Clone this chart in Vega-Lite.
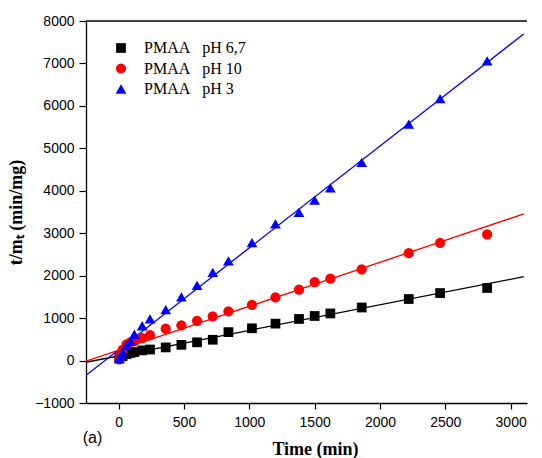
{
  "$schema": "https://vega.github.io/schema/vega-lite/v6.json",
  "width": 441,
  "height": 382,
  "autosize": "none",
  "padding": {"left": 86, "top": 21, "right": 15, "bottom": 55},
  "background": "white",
  "config": {"view": {"stroke": null}},
  "datasets": {
    "points": [
      {"time": 5, "tm": 60, "series": "PMAA   pH 6,7"},
      {"time": 30, "tm": 100, "series": "PMAA   pH 6,7"},
      {"time": 60, "tm": 150, "series": "PMAA   pH 6,7"},
      {"time": 90, "tm": 180, "series": "PMAA   pH 6,7"},
      {"time": 120, "tm": 200, "series": "PMAA   pH 6,7"},
      {"time": 180, "tm": 240, "series": "PMAA   pH 6,7"},
      {"time": 240, "tm": 260, "series": "PMAA   pH 6,7"},
      {"time": 360, "tm": 310, "series": "PMAA   pH 6,7"},
      {"time": 480, "tm": 370, "series": "PMAA   pH 6,7"},
      {"time": 600, "tm": 430, "series": "PMAA   pH 6,7"},
      {"time": 720, "tm": 490, "series": "PMAA   pH 6,7"},
      {"time": 840, "tm": 670, "series": "PMAA   pH 6,7"},
      {"time": 1020, "tm": 760, "series": "PMAA   pH 6,7"},
      {"time": 1200, "tm": 870, "series": "PMAA   pH 6,7"},
      {"time": 1380, "tm": 980, "series": "PMAA   pH 6,7"},
      {"time": 1500, "tm": 1050, "series": "PMAA   pH 6,7"},
      {"time": 1620, "tm": 1110, "series": "PMAA   pH 6,7"},
      {"time": 1860, "tm": 1250, "series": "PMAA   pH 6,7"},
      {"time": 2220, "tm": 1450, "series": "PMAA   pH 6,7"},
      {"time": 2460, "tm": 1590, "series": "PMAA   pH 6,7"},
      {"time": 2820, "tm": 1710, "series": "PMAA   pH 6,7"},
      {"time": 5, "tm": 30, "series": "PMAA   pH 10"},
      {"time": 15, "tm": 150, "series": "PMAA   pH 10"},
      {"time": 30, "tm": 250, "series": "PMAA   pH 10"},
      {"time": 60, "tm": 380, "series": "PMAA   pH 10"},
      {"time": 90, "tm": 430, "series": "PMAA   pH 10"},
      {"time": 120, "tm": 460, "series": "PMAA   pH 10"},
      {"time": 180, "tm": 530, "series": "PMAA   pH 10"},
      {"time": 240, "tm": 600, "series": "PMAA   pH 10"},
      {"time": 360, "tm": 750, "series": "PMAA   pH 10"},
      {"time": 480, "tm": 830, "series": "PMAA   pH 10"},
      {"time": 600, "tm": 935, "series": "PMAA   pH 10"},
      {"time": 720, "tm": 1040, "series": "PMAA   pH 10"},
      {"time": 840, "tm": 1160, "series": "PMAA   pH 10"},
      {"time": 1020, "tm": 1310, "series": "PMAA   pH 10"},
      {"time": 1200, "tm": 1490, "series": "PMAA   pH 10"},
      {"time": 1380, "tm": 1670, "series": "PMAA   pH 10"},
      {"time": 1500, "tm": 1850, "series": "PMAA   pH 10"},
      {"time": 1620, "tm": 1930, "series": "PMAA   pH 10"},
      {"time": 1860, "tm": 2150, "series": "PMAA   pH 10"},
      {"time": 2220, "tm": 2530, "series": "PMAA   pH 10"},
      {"time": 2460, "tm": 2770, "series": "PMAA   pH 10"},
      {"time": 2820, "tm": 2970, "series": "PMAA   pH 10"},
      {"time": 5, "tm": 40, "series": "PMAA   pH 3"},
      {"time": 15, "tm": 120, "series": "PMAA   pH 3"},
      {"time": 30, "tm": 200, "series": "PMAA   pH 3"},
      {"time": 60, "tm": 350, "series": "PMAA   pH 3"},
      {"time": 90, "tm": 450, "series": "PMAA   pH 3"},
      {"time": 120, "tm": 620, "series": "PMAA   pH 3"},
      {"time": 180, "tm": 820, "series": "PMAA   pH 3"},
      {"time": 240, "tm": 980, "series": "PMAA   pH 3"},
      {"time": 360, "tm": 1200, "series": "PMAA   pH 3"},
      {"time": 480, "tm": 1500, "series": "PMAA   pH 3"},
      {"time": 600, "tm": 1770, "series": "PMAA   pH 3"},
      {"time": 720, "tm": 2080, "series": "PMAA   pH 3"},
      {"time": 840, "tm": 2350, "series": "PMAA   pH 3"},
      {"time": 1020, "tm": 2780, "series": "PMAA   pH 3"},
      {"time": 1200, "tm": 3220, "series": "PMAA   pH 3"},
      {"time": 1380, "tm": 3490, "series": "PMAA   pH 3"},
      {"time": 1500, "tm": 3780, "series": "PMAA   pH 3"},
      {"time": 1620, "tm": 4070, "series": "PMAA   pH 3"},
      {"time": 1860, "tm": 4670, "series": "PMAA   pH 3"},
      {"time": 2220, "tm": 5570, "series": "PMAA   pH 3"},
      {"time": 2460, "tm": 6170, "series": "PMAA   pH 3"},
      {"time": 2820, "tm": 7060, "series": "PMAA   pH 3"}
    ],
    "fits": [
      {"time": -250, "tm": -40, "series": "PMAA   pH 6,7"},
      {"time": 3100, "tm": 1975, "series": "PMAA   pH 6,7"},
      {"time": -250, "tm": -16, "series": "PMAA   pH 10"},
      {"time": 3100, "tm": 3455, "series": "PMAA   pH 10"},
      {"time": -250, "tm": -346, "series": "PMAA   pH 3"},
      {"time": 3100, "tm": 7696, "series": "PMAA   pH 3"}
    ],
    "one": [{"label": "(a)"}]
  },
  "layer": [
    {
      "data": {"name": "one"},
      "mark": {"type": "rule", "color": "black", "strokeWidth": 1.3},
      "encoding": {"y": {"datum": 8000}}
    },
    {
      "data": {"name": "fits"},
      "mark": {"type": "line", "strokeWidth": 1.3, "clip": true},
      "encoding": {
        "x": {"field": "time", "type": "quantitative"},
        "y": {"field": "tm", "type": "quantitative"},
        "detail": {"field": "series"},
        "color": {"field": "series", "type": "nominal"}
      }
    },
    {
      "data": {"name": "points"},
      "mark": {"type": "point", "filled": true, "opacity": 1},
      "encoding": {
        "x": {
          "field": "time", "type": "quantitative",
          "scale": {"domain": [-250, 3125], "nice": false, "zero": false},
          "axis": {
            "values": [0, 500, 1000, 1500, 2000, 2500, 3000],
            "format": "d",
            "title": "Time (min)",
            "titleFont": "Liberation Serif", "titleFontSize": 18, "titleFontWeight": "bold", "titleColor": "black",
            "titlePadding": 11, "titleX": 229, "titleAlign": "center",
            "labelFont": "Liberation Sans", "labelFontSize": 14, "labelColor": "black", "labelPadding": 6,
            "grid": false, "domainColor": "black", "domainWidth": 1.3, "tickColor": "black", "tickSize": 6, "tickWidth": 1.2,
            "tickMinorStep": 250, "minorTickSize": 3
          }
        },
        "y": {
          "field": "tm", "type": "quantitative",
          "scale": {"domain": [-1000, 8000], "nice": false, "zero": false},
          "axis": {
            "values": [-1000, 0, 1000, 2000, 3000, 4000, 5000, 6000, 7000, 8000],
            "format": "d",
            "title": "t/mₜ (min/mg)",
            "titleFont": "Liberation Serif", "titleFontSize": 18, "titleFontWeight": "bold", "titleColor": "black",
            "titlePadding": 9,
            "labelFont": "Liberation Sans", "labelFontSize": 14, "labelColor": "black", "labelPadding": 5,
            "grid": false, "domainColor": "black", "domainWidth": 1.3, "tickColor": "black", "tickSize": 7, "tickWidth": 1.2,
            "tickMinorStep": 500, "minorTickSize": 3
          }
        },
        "color": {
          "field": "series", "type": "nominal",
          "scale": {"domain": ["PMAA   pH 6,7", "PMAA   pH 10", "PMAA   pH 3"], "range": ["#000000", "#ff0000", "#0000ff"]},
          "legend": {
            "orient": "none", "legendX": 27, "legendY": 19, "title": null,
            "labelExpr": "replace(datum.label, '   ', '\u00a0\u00a0\u00a0')",
            "labelFont": "Liberation Serif", "labelFontSize": 16, "labelColor": "black", "labelOffset": 15,
            "rowPadding": 4.5, "symbolSize": 110, "symbolOpacity": 1, "symbolStrokeWidth": 0
          }
        },
        "shape": {
          "field": "series", "type": "nominal",
          "scale": {"domain": ["PMAA   pH 6,7", "PMAA   pH 10", "PMAA   pH 3"], "range": ["square", "circle", "triangle-up"]}
        },
        "size": {
          "field": "series", "type": "nominal",
          "scale": {"domain": ["PMAA   pH 6,7", "PMAA   pH 10", "PMAA   pH 3"], "range": [95, 115, 160]},
          "legend": null
        }
      }
    },
    {
      "data": {"name": "one"},
      "mark": {"type": "text", "font": "Liberation Sans", "fontSize": 16, "color": "black", "clip": false, "align": "left", "baseline": "middle"},
      "encoding": {
        "x": {"datum": -275},
        "y": {"datum": -1830},
        "text": {"field": "label"}
      }
    }
  ]
}
